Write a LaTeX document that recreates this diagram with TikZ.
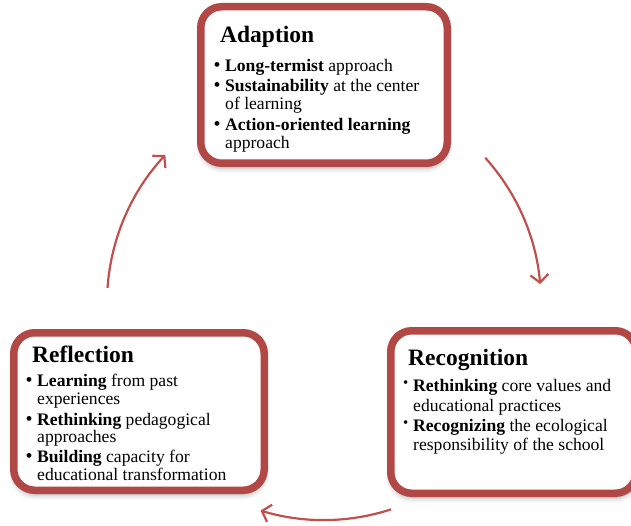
\documentclass[tikz,border=0pt]{standalone}
\usepackage{fontspec}
\setmainfont{Liberation Serif}
\usetikzlibrary{arrows.meta,calc,shadows.blur}

\definecolor{boxred}{RGB}{178,72,70}
\definecolor{arrowred}{RGB}{192,80,77}

\newcommand\cycTitleFont{\fontsize{23.5}{28}\selectfont\bfseries}
\newcommand\cycBodyFont{\fontsize{17.6}{18}\selectfont}
\newcommand\cycBulletFont{\fontsize{20}{20}\selectfont}

\tikzset{
  stagebox/.style={rectangle, draw=boxred, line width=7.5pt, fill=white,
    rounded corners=21pt, inner sep=0pt,
    blur shadow={shadow xshift=0pt, shadow yshift=-5pt,
      shadow blur radius=5pt, shadow opacity=30}},
  ttl/.style={anchor=base west, inner sep=0pt, font=\cycTitleFont},
  txt/.style={anchor=base west, inner sep=0pt, font=\cycBodyFont},
  bul/.style={anchor=base west, inner sep=0pt, font=\cycBulletFont},
  highbul/.style={anchor=base west, inner sep=0pt, font=\fontsize{15}{15}\selectfont},
  cycarrow/.style={draw=arrowred, line width=2.2pt,
    -{Straight Barb[length=8pt,width=18pt]}},
}

\begin{document}
\begin{tikzpicture}[x=1pt,y=1pt]
\useasboundingbox (0,0) rectangle (631,525);
\clip (0,0) rectangle (631,525);

% the three stage boxes
\node[stagebox, minimum width=246.5pt, minimum height=156.5pt] (adaption) at (324,440) {};
\node[stagebox, minimum width=250.5pt, minimum height=157.5pt] (reflection) at (139,113.5) {};
\node[stagebox, minimum width=245.5pt, minimum height=162.5pt] (recognition) at (513.5,113) {};

% Adaption
\node[ttl] (adT) at (220,482) {Adaption};
\node[bul] (adB1) at (213.5,453.3) {•};
\node[txt] (ad1) at (225,453.3) {\textbf{Long-termist} approach};
\node[bul] (adB2) at (213.5,433.3) {•};
\node[txt] (ad2) at (225,433.3) {\textbf{Sustainability} at the center};
\node[txt] (ad3) at (225,415) {of learning};
\node[bul] (adB3) at (213.5,394) {•};
\node[txt] (ad4) at (225,394) {\textbf{Action-oriented learning}};
\node[txt] (ad5) at (225,376.7) {approach};

% Reflection
\node[ttl] (reT) at (32,162.3) {Reflection};
\node[bul] (reB1) at (25.5,138.3) {•};
\node[txt] (re1) at (37,138.3) {\textbf{Learning} from past};
\node[txt] (re2) at (37,120.7) {experiences};
\node[bul] (reB2) at (25.5,100) {•};
\node[txt] (re3) at (37,100) {\textbf{Rethinking} pedagogical};
\node[txt] (re4) at (37,82.3) {approaches};
\node[bul] (reB3) at (25.5,62.3) {•};
\node[txt] (re5) at (37,62.3) {\textbf{Building} capacity for};
\node[txt] (re6) at (37,45) {educational transformation};

% Recognition
\node[ttl] (rcT) at (408,160) {Recognition};
\node[highbul] (rcB1) at (403,138) {•};
\node[txt] (rc1) at (413,133.3) {\textbf{Rethinking} core values and};
\node[txt] (rc2) at (413,114) {educational practices};
\node[highbul] (rcB2) at (403,98) {•};
\node[txt] (rc3) at (413,93.3) {\textbf{Recognizing} the ecological};
\node[txt] (rc4) at (413,75) {responsibility of the school};

% cycle arrows on a common circle
\coordinate (cyc) at (324,222);
\coordinate (arA) at ($(cyc)+(42:217pt)$);
\coordinate (arB) at ($(cyc)+(-72:217pt)$);
\coordinate (arC) at ($(cyc)+(176:217pt)$);
\draw[cycarrow] (arA) arc[start angle=42, end angle=5, radius=217pt];
\draw[cycarrow] (arB) arc[start angle=-72, end angle=-107, radius=217pt];
\draw[cycarrow] (arC) arc[start angle=176, end angle=137, radius=217pt];
\end{tikzpicture}
\end{document}
